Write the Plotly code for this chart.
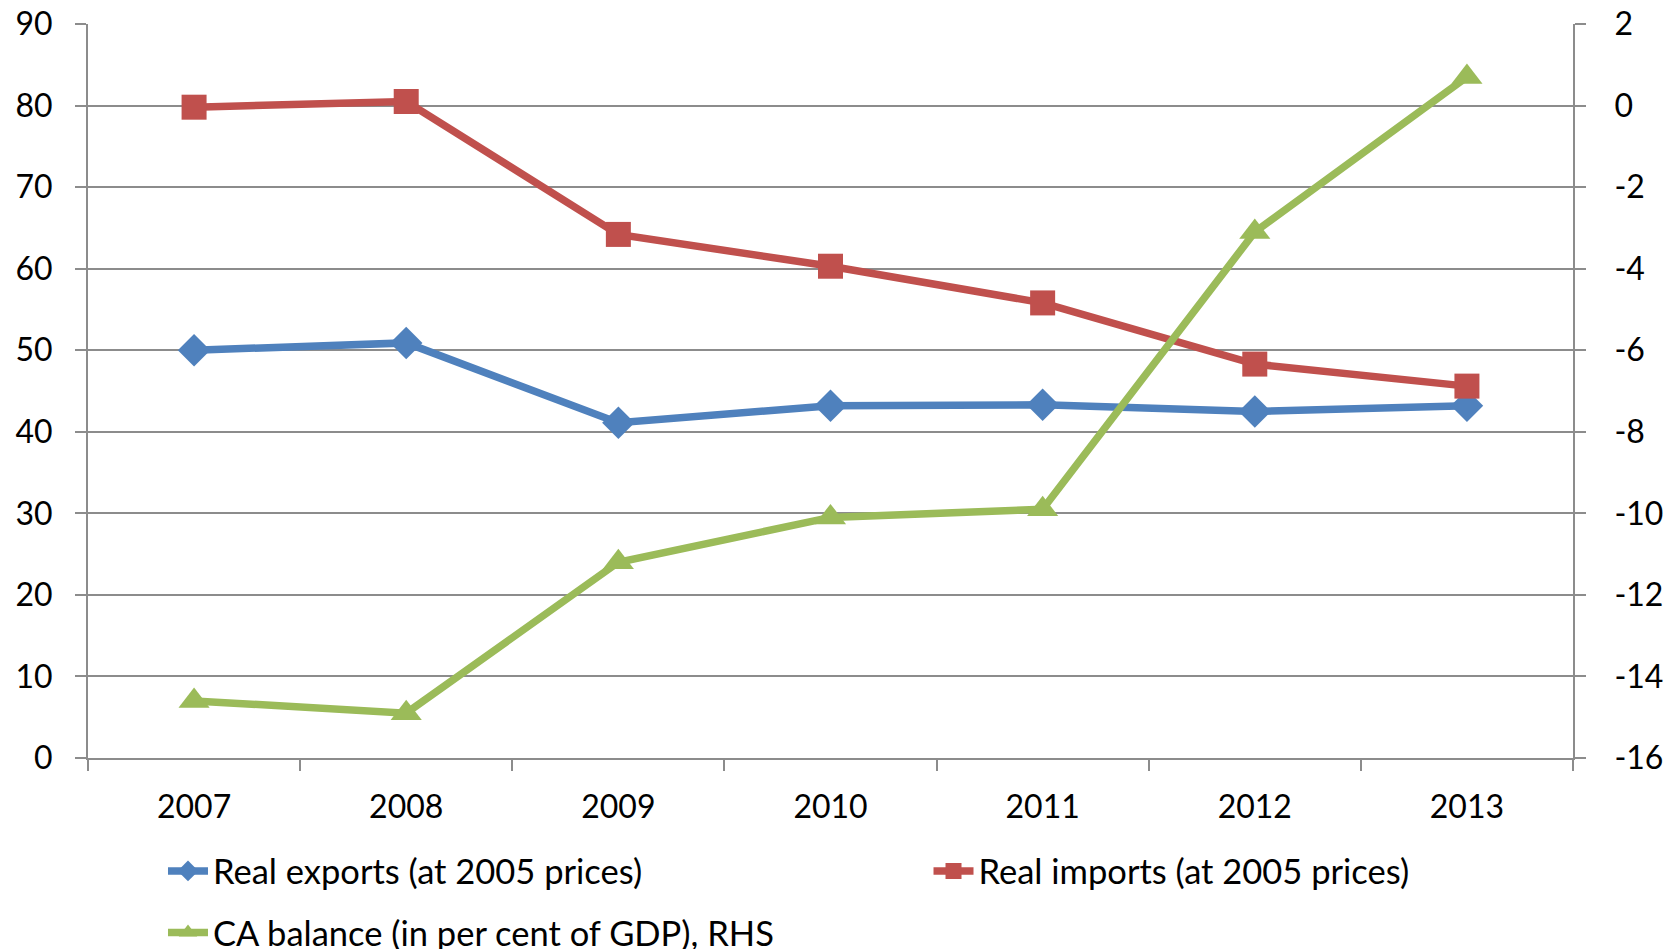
import plotly.graph_objects as go

years = ["2007", "2008", "2009", "2010", "2011", "2012", "2013"]
real_exports = [50.0, 50.9, 41.1, 43.2, 43.3, 42.5, 43.2]
real_imports = [79.8, 80.5, 64.2, 60.3, 55.8, 48.3, 45.6]
ca_balance = [-14.6, -14.9, -11.2, -10.1, -9.9, -3.1, 0.7]

# right-hand axis ticks, labelled with a plain hyphen
rhs_ticks = [-16, -14, -12, -10, -8, -6, -4, -2, 0, 2]
rhs_labels = ["-16", "-14", "-12", "-10", "-8", "-6", "-4", "-2", "0", "2"]

BLUE = "#4F81BD"
RED = "#C0504D"
GREEN = "#9BBB59"
GRID = "#8C8C8C"
FONT = "Lato, 'Open Sans', sans-serif"
FSIZE = 32
LEG_SIZE = 34.5

fig = go.Figure()
fig.add_trace(go.Scatter(
    x=years, y=real_exports, name="Real exports (at 2005 prices)",
    mode="lines+markers", line=dict(color=BLUE, width=7.5),
    marker=dict(symbol="diamond", size=25, color=BLUE),
    legend="legend",
))
fig.add_trace(go.Scatter(
    x=years, y=real_imports, name="Real imports (at 2005 prices)",
    mode="lines+markers", line=dict(color=RED, width=7.5),
    marker=dict(symbol="square", size=25, color=RED),
    legend="legend2",
))
fig.add_trace(go.Scatter(
    x=years, y=ca_balance, name="CA balance (in per cent of GDP), RHS",
    mode="lines+markers", line=dict(color=GREEN, width=7.5),
    marker=dict(symbol="triangle-up", size=27, color=GREEN),
    yaxis="y2", legend="legend3",
))

axis_common = dict(
    showline=True, linecolor=GRID, linewidth=2,
    ticks="outside", ticklen=11, tickcolor=GRID, tickwidth=2,
    tickfont=dict(family=FONT, size=FSIZE, color="black"),
    zeroline=False,
)

legend_common = dict(
    orientation="h", xanchor="left", yanchor="middle",
    font=dict(family=FONT, size=LEG_SIZE, color="black"),
    bgcolor="rgba(0,0,0,0)", itemwidth=40,
)

fig.update_layout(
    width=1669, height=949,
    margin=dict(l=88, r=96, t=24, b=191, autoexpand=False),
    paper_bgcolor="white", plot_bgcolor="white",
    font=dict(family=FONT, size=FSIZE, color="black"),
    xaxis=dict(
        **axis_common, type="category", tickson="boundaries",
        range=[-0.5, len(years) - 0.5],
        showgrid=False, ticklabelstandoff=20,
    ),
    yaxis=dict(
        **axis_common, range=[0, 90], dtick=10, tick0=0,
        showgrid=True, gridcolor=GRID, gridwidth=2,
        ticklabelstandoff=16,
    ),
    yaxis2=dict(
        **axis_common, range=[-16, 2],
        tickmode="array", tickvals=rhs_ticks, ticktext=rhs_labels,
        overlaying="y", side="right", showgrid=False,
        ticklabelstandoff=22,
    ),
    legend=dict(**legend_common, x=0.0505, y=-0.154),
    legend2=dict(**legend_common, x=0.566, y=-0.154),
    legend3=dict(**legend_common, x=0.0505, y=-0.238),
    showlegend=True,
)

fig.write_html("out.html")
